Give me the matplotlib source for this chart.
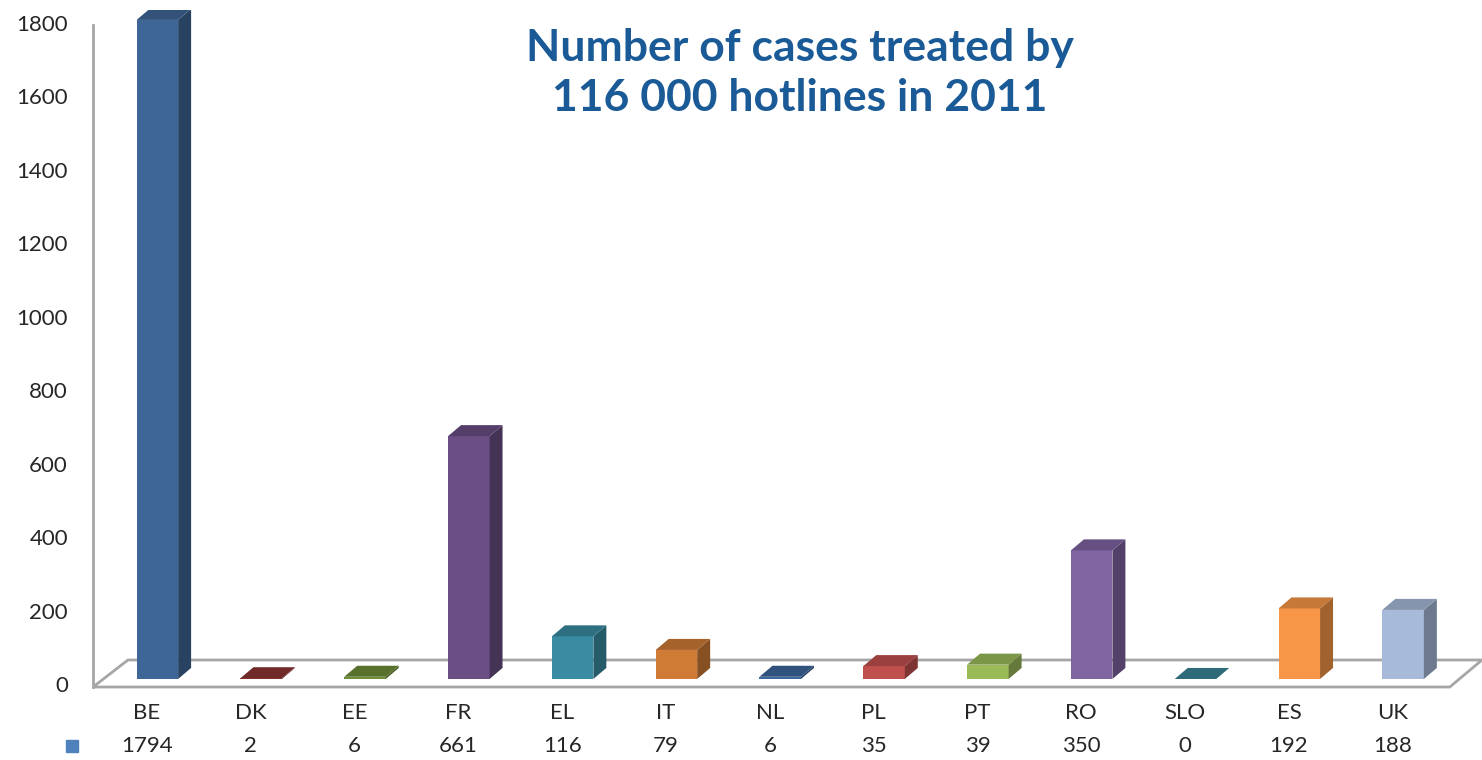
import matplotlib
matplotlib.use("Agg")
import matplotlib.pyplot as plt
from matplotlib.patches import Polygon
from matplotlib.colors import to_rgb
from matplotlib.transforms import ScaledTranslation, blended_transform_factory

countries = ["BE", "DK", "EE", "FR", "EL", "IT", "NL", "PL", "PT", "RO", "SLO", "ES", "UK"]
cases = [1794, 2, 6, 661, 116, 79, 6, 35, 39, 350, 0, 192, 188]
yticks = [0, 200, 400, 600, 800, 1000, 1200, 1400, 1600, 1800]

colors = ["#3E6797", "#8B3533", "#6E8E38", "#6A4E84", "#3A8CA3", "#CF7B36", "#3D679C",
          "#C0504D", "#9BBB59", "#8064A2", "#3A8496", "#F79646", "#A8BAD9"]

def shade(c, f):
    r, g, b = to_rgb(c)
    return (r * f, g * f, b * f)

W, H = 1482, 760
fig = plt.figure(figsize=(W / 100, H / 100), dpi=100)
ax = fig.add_axes([93 / W, (H - 690) / H, (W - 93) / W, 680 / H])
ax.set_xlim(-0.52, 12.86)
ax.set_ylim(-30, 1821)
for s in ax.spines.values():
    s.set_visible(False)

dx, dy = 0.125, 30
off, bw = 0.1, 0.4
grey = "#A6A6A6"

# floor and wall
ax.add_patch(Polygon([(-0.52, -21.8), (12.55, -21.8), (12.86, 51.7), (-0.183, 51.7)],
                     closed=True, facecolor="none", edgecolor=grey, lw=2, zorder=1))
ax.plot([-0.52, -0.52], [-21.8, 1780], color=grey, lw=2, zorder=1, clip_on=False)

xs = [i + off for i in range(len(cases))]
ax.bar(xs, cases, width=bw, color=colors, zorder=3)
for x, v, c in zip(xs, cases, colors):
    l, r = x - bw / 2, x + bw / 2
    ax.add_patch(Polygon([(r, 0), (r + dx, dy), (r + dx, v + dy), (r, v)],
                         closed=True, facecolor=shade(c, 0.65), edgecolor="none", zorder=3))
    ax.add_patch(Polygon([(l, v), (r, v), (r + dx, v + dy), (l + dx, v + dy)],
                         closed=True, facecolor=shade(c, 0.8), edgecolor="none", zorder=3))

ax.set_yticks(yticks)
ax.set_yticklabels([str(t) for t in yticks], fontsize=16, family="Lato", color="#262626")
ax.tick_params(axis="y", length=0, pad=18)
for lab in ax.get_yticklabels():
    lab.set_transform(lab.get_transform() + ScaledTranslation(0, -5 / 100, fig.dpi_scale_trans))
ax.set_xticks([])

# data table
tr = blended_transform_factory(ax.transData, fig.transFigure)
for i, (c, v) in enumerate(zip(countries, cases)):
    ax.text(i, 1 - 713 / H, c, transform=tr, ha="center", va="center",
            fontsize=16, family="Lato", color="#262626")
    ax.text(i, 1 - 746 / H, str(v), transform=tr, ha="center", va="center",
            fontsize=16, family="Lato", color="#262626")
fig.patches.append(plt.Rectangle((66 / W, 1 - 752 / H), 12 / W, 12 / H,
                                 transform=fig.transFigure, color="#4F81BD"))

fig.text(800 / W, 1 - 73 / H, "Number of cases treated by\n116 000 hotlines in 2011",
         ha="center", va="center", fontsize=32, fontweight="bold", family="Lato",
         color="#1A5A96", linespacing=1.3)

fig.savefig("out.png", dpi=100)
